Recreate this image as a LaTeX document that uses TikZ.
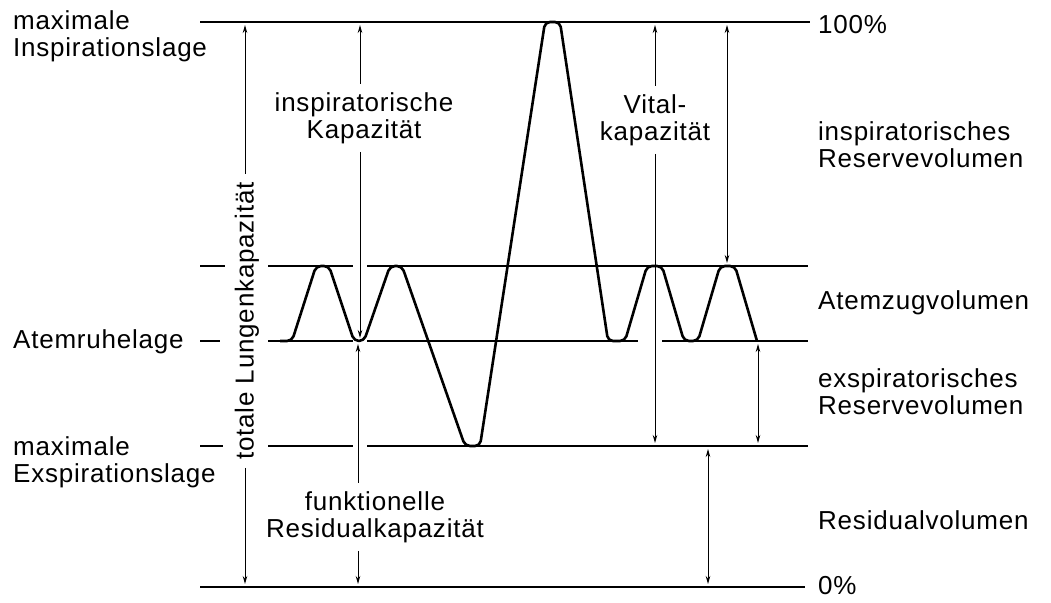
\documentclass[tikz,border=0pt]{standalone}
\usepackage{fontspec}
\setmainfont{Liberation Sans}[LetterSpace=3]
\usetikzlibrary{arrows.meta,positioning}

\begin{document}
\begin{tikzpicture}[x=1pt, y=-1pt,
    every node/.style={font=\fontsize{26}{27}\selectfont, inner sep=0pt},
    level/.style={line width=2.8pt},
    curve/.style={line width=2.6pt, rounded corners=5pt, line join=round},
    dimline/.style={line width=1pt, shorten <=3pt, shorten >=3pt},
    tipstart/.style={{Stealth[length=8pt,width=4.5pt]}-},
    tipend/.style={-{Stealth[length=8pt,width=4.5pt]}},
    tipboth/.style={{Stealth[length=8pt,width=4.5pt]}-{Stealth[length=8pt,width=4.5pt]}},
    gaplabel/.style={align=center, inner sep=5pt}]
  \useasboundingbox (0,0) rectangle (1051,602);

  % Lagen (horizontale Linien)
  \draw[level] (200,22) -- (810,22);
  \draw[level] (200,266) -- (225,266) (268,266) -- (353,266) (367,266) -- (808,266);
  \draw[level] (200,341) -- (220,341) (268,341) -- (353,341) (367,341) -- (638,341) (662,341) -- (808,341);
  \draw[level] (200,446) -- (223,446) (268,446) -- (353,446) (367,446) -- (808,446);
  \draw[level] (200,587) -- (805,587);

  % Spirogramm
  \draw[curve] (280,341) -- (292,341) -- (316,266) -- (329,266) -- (354,341) -- (364,341)
    -- (390,266) -- (402,266) -- (465,446) -- (480,446) -- (545,22) -- (560,22)
    -- (608,341) -- (625,341) -- (647,266) -- (662,266) -- (684,341) -- (698,341)
    -- (720,266) -- (735,266) -- (757,341);

  % Lagen links
  \node[anchor=west, align=left] (maxinsp) at (13,36) {maximale\\Inspirationslage};
  \node[anchor=west] (rest) at (13,342) {Atemruhelage};
  \node[anchor=west, align=left] (maxexp) at (13,462) {maximale\\Exspirationslage};

  % Volumina rechts
  \node[anchor=west] (p100) at (818,25) {100\%};
  \node[anchor=west, align=left] (irv) at (818,145) {inspiratorisches\\Reservevolumen};
  \node[anchor=west] (tv) at (818,303) {Atemzugvolumen};
  \node[anchor=west, align=left] (erv) at (818,392) {exspiratorisches\\Reservevolumen};
  \node[anchor=west] (rv) at (818,520) {Residualvolumen};
  \node[anchor=west] (p0) at (818,586) {0\%};

  % Kapazitaeten
  \node[gaplabel] (iclbl) at (364,118) {inspiratorische\\Kapazität};
  \node[gaplabel] (vclbl) at (655,120) {Vital-\\kapazität};
  \node[gaplabel] (frclbl) at (375,517) {funktionelle\\Residualkapazität};
  \node[gaplabel, rotate=90] (tlclbl) at (247,321) {totale Lungenkapazität};

  % Pfeile
  \coordinate (tlc-a) at (245,22);  \coordinate (tlc-b) at (245,587);
  \coordinate (ic-a) at (360,22);   \coordinate (ic-b) at (360,341);
  \coordinate (frc-a) at (358,341); \coordinate (frc-b) at (358,587);
  \coordinate (vc-a) at (655,22);   \coordinate (vc-b) at (655,446);
  \coordinate (irv-a) at (727,22);  \coordinate (irv-b) at (727,266);
  \coordinate (erv-a) at (758,341); \coordinate (erv-b) at (758,446);
  \coordinate (rv-a) at (708,446);  \coordinate (rv-b) at (708,587);

  \draw[dimline, tipstart] (tlc-a) -- (tlc-a |- tlclbl.east);
  \draw[dimline, tipend] (tlc-a |- tlclbl.west) -- (tlc-b);
  \draw[dimline, tipstart] (ic-a) -- (ic-a |- iclbl.north);
  \draw[dimline, tipend] (ic-a |- iclbl.south) -- (ic-b);
  \draw[dimline, tipstart] (frc-a) -- (frc-a |- frclbl.north);
  \draw[dimline, tipend] (frc-a |- frclbl.south) -- (frc-b);
  \draw[dimline, tipstart] (vc-a) -- (vc-a |- vclbl.north);
  \draw[dimline, tipend] (vc-a |- vclbl.south) -- (vc-b);
  \draw[dimline, tipboth] (irv-a) -- (irv-b);
  \draw[dimline, tipboth] (erv-a) -- (erv-b);
  \draw[dimline, tipboth] (rv-a) -- (rv-b);
\end{tikzpicture}
\end{document}
